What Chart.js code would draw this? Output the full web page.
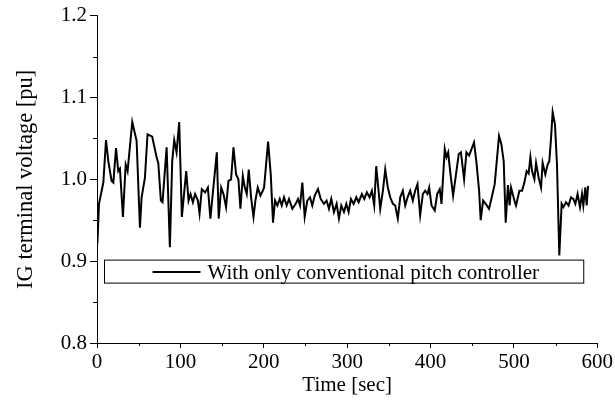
<!DOCTYPE html>
<html>
<head>
<meta charset="utf-8">
<script src="https://cdn.jsdelivr.net/npm/chart.js@4.4.0/dist/chart.umd.min.js"></script>
<style>
html, body { margin: 0; padding: 0; background: #fff; }
#wrap { width: 615px; height: 409px; }
</style>
</head>
<body>
<div id="wrap"><canvas id="grafico"></canvas></div>
<script>
// time [sec] and IG terminal voltage [pu]
var times = [0.5, 2.4, 7.6, 10.8, 13.6, 17.5, 19.6, 22.8, 25.5, 27.5, 31.1, 34.4, 36.7, 42.3, 47.5, 51.5, 53.5, 57.5, 60.6, 66.2,
  71.5, 73.5, 76.6, 78.6, 83.5, 87.4, 90.2, 92.6, 95.4, 98.6, 101.8, 107, 109.8, 112.2, 115, 117.7, 121, 123, 125.7, 129.7,
  133, 136, 139, 143.7, 146, 148.9, 151.7, 154.8, 157.7, 160.8, 163.7, 166.8, 169.6, 172, 174.9, 176.8, 179.6, 182, 184.8, 187.7,
  190, 192.8, 196, 198.8, 200.4, 205.2, 208.4, 211.1, 213.5, 216.3, 219.2, 221.6, 224.3, 227.5, 230.3, 234.3, 238.3, 241.1, 243.5, 246.3,
  249.1, 252.2, 255.5, 258.2, 261.1, 265.1, 268.3, 272.2, 275.4, 278.2, 281, 284.2, 287.4, 290.2, 293, 296.2, 299, 301.8, 304.6, 307.8,
  311, 313.8, 317.7, 320.6, 323.7, 326.9, 329.7, 332.5, 334.9, 337.7, 339.7, 342.9, 345.7, 348.8, 351.7, 354.9, 357.7, 360.8, 363.7, 366.8,
  369.7, 372.5, 375.6, 378.8, 381.6, 384.4, 387.6, 390.8, 393.6, 396.4, 398.4, 401.2, 405.1, 408, 411.1, 413.2, 417.1, 419.2, 421.2, 424,
  427.1, 430.3, 433.9, 436.5, 440.3, 443.1, 446.3, 452.2, 455.1, 458.3, 460.2, 463.1, 466.2, 470.2, 473, 477, 479.9, 482.2, 485, 487.8,
  490.2, 492.9, 494.9, 496.6, 500.6, 502.6, 506.6, 509.8, 512.6, 515.3, 517.7, 519.8, 521.8, 524.6, 526.6, 529.7, 532.6, 534.5, 537.7, 540.5,
  542.5, 544.5, 546.5, 549.3, 551.7, 554.5, 557.3, 559.3, 562.5, 565.6, 568.5, 571.3, 573.7, 576.4, 579.3, 581.7, 583.3, 585.7, 587.3, 589];
var voltage = [0.922, 0.970, 0.996, 1.048, 1.022, 0.998, 0.996, 1.038, 1.010, 1.013, 0.954, 1.018, 1.010, 1.070, 1.047, 0.941, 0.978, 1.002, 1.055, 1.052,
  1.027, 1.020, 0.974, 0.972, 1.039, 0.917, 1.022, 1.048, 1.033, 1.070, 0.954, 1.010, 0.974, 0.982, 0.972, 0.982, 0.974, 0.958, 0.988, 0.984,
  0.990, 0.952, 0.984, 1.033, 0.952, 0.990, 0.982, 0.966, 0.998, 1.000, 1.039, 1.006, 1.000, 0.964, 1.004, 0.992, 0.982, 1.012, 0.978, 0.954,
  0.974, 0.990, 0.980, 0.986, 0.990, 1.046, 1.006, 0.947, 0.974, 0.968, 0.976, 0.968, 0.978, 0.968, 0.976, 0.964, 0.970, 0.976, 0.968, 0.996,
  0.954, 0.974, 0.978, 0.968, 0.980, 0.988, 0.976, 0.970, 0.974, 0.964, 0.976, 0.960, 0.970, 0.952, 0.968, 0.960, 0.970, 0.960, 0.976, 0.970,
  0.978, 0.972, 0.982, 0.976, 0.984, 0.978, 0.986, 0.968, 1.016, 0.986, 0.964, 0.986, 1.012, 0.990, 0.978, 0.970, 0.968, 0.952, 0.978, 0.986,
  0.968, 0.978, 0.986, 0.974, 0.986, 0.994, 0.956, 0.982, 0.986, 0.982, 0.990, 0.968, 0.962, 0.982, 0.988, 0.970, 1.037, 1.027, 1.033, 1.006,
  0.980, 1.004, 1.031, 1.033, 1.000, 1.033, 1.029, 1.045, 1.021, 0.986, 0.950, 0.974, 0.970, 0.964, 0.976, 0.994, 1.027, 1.053, 1.043, 1.022,
  0.947, 0.993, 0.968, 0.990, 0.974, 0.968, 0.986, 0.986, 0.996, 1.010, 1.007, 1.027, 1.010, 1.000, 1.020, 1.002, 0.990, 1.020, 1.006, 1.018,
  1.022, 1.049, 1.082, 1.067, 1.018, 0.907, 0.970, 0.966, 0.972, 0.968, 0.978, 0.976, 0.970, 0.982, 0.966, 0.982, 0.968, 0.990, 0.968, 0.992];

var serieNome = 'With only conventional pitch controller';
var tituloX = 'Time [sec]';
var tituloY = 'IG terminal voltage [pu]';
var xMinor = [50, 150, 250, 350, 450, 550];
var yMinor = [0.85, 0.95, 1.05, 1.15];

var fonte = "'Liberation Serif', 'Times New Roman', serif";
Chart.defaults.font.family = fonte;
Chart.defaults.font.size = 21;
Chart.defaults.color = '#000';

var pontos = times.map(function (t, i) {
    return {x: t, y: voltage[i]};
});

// short minor ticks and the framed legend inside the plot
var extras = {
    id: 'extras',
    afterDraw: function (chart) {
        var ctx = chart.ctx;
        var sx = chart.scales.x, sy = chart.scales.y;
        var a = chart.chartArea;
        ctx.save();
        ctx.strokeStyle = '#000';
        ctx.lineWidth = 1;
        ctx.beginPath();
        xMinor.forEach(function (v) {
            var px = Math.round(sx.getPixelForValue(v)) + 0.5;
            ctx.moveTo(px, a.bottom);
            ctx.lineTo(px, a.bottom + 3);
        });
        yMinor.forEach(function (v) {
            var py = Math.round(sy.getPixelForValue(v)) + 0.5;
            ctx.moveTo(a.left, py);
            ctx.lineTo(a.left - 4, py);
        });
        ctx.stroke();

        var bx = a.left + 7.5, by = a.top + 244.5, bw = a.right - a.left - 21, bh = 23;
        ctx.strokeRect(bx, by, bw, bh);
        var ly = Math.round(by + bh / 2);
        ctx.lineWidth = 2;
        ctx.beginPath();
        ctx.moveTo(bx + 48, ly);
        ctx.lineTo(bx + 96, ly);
        ctx.stroke();
        ctx.fillStyle = '#000';
        ctx.font = '21px ' + fonte;
        ctx.textBaseline = 'middle';
        ctx.textAlign = 'left';
        ctx.fillText(serieNome, bx + 103, ly + 1);
        ctx.restore();
    }
};

new Chart(document.getElementById('grafico'), {
    type: 'line',
    data: {
        datasets: [
            {
                label: serieNome,
                data: pontos,
                borderColor: '#000',
                borderWidth: 2,
                pointRadius: 0,
                tension: 0,
                fill: false
            }
        ]
    },
    options: {
        responsive: true,
        maintainAspectRatio: false,
        animation: false,
        layout: {padding: {top: 14, right: 17, left: 0, bottom: 0}},
        plugins: {
            legend: {display: false},
            tooltip: {enabled: false}
        },
        scales: {
            x: {
                type: 'linear',
                min: 0,
                max: 600,
                afterFit: function (s) { s.height = 66; },
                ticks: {stepSize: 100, padding: 2, maxRotation: 0},
                grid: {drawOnChartArea: false, tickLength: 5, color: '#000'},
                border: {color: '#000', width: 1},
                title: {display: true, text: tituloX, padding: {top: 0, bottom: 11}}
            },
            y: {
                min: 0.8,
                max: 1.2,
                afterFit: function (s) { s.width = 97; },
                ticks: {
                    stepSize: 0.1,
                    padding: 3,
                    callback: function (v) { return v.toFixed(1); }
                },
                grid: {drawOnChartArea: false, tickLength: 7, color: '#000'},
                border: {color: '#000', width: 1},
                title: {display: true, text: tituloY, font: {size: 22.5}, padding: {top: 13, bottom: 0}}
            }
        }
    },
    plugins: [extras]
});
</script>
</body>
</html>
